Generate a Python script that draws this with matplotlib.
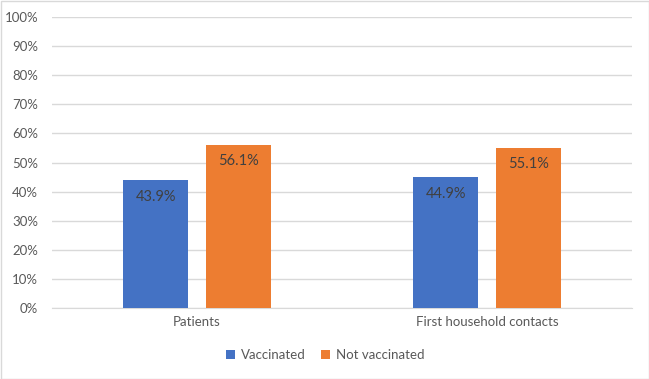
import matplotlib
matplotlib.use("Agg")
import matplotlib.pyplot as plt
import numpy as np

categories = ["Patients", "First household contacts"]
vaccinated = [43.9, 44.9]
not_vaccinated = [56.1, 55.1]
series_names = ["Vaccinated", "Not vaccinated"]
yticks = list(range(0, 101, 10))

plt.rcParams['font.family'] = ['Lato', 'DejaVu Sans']

fig = plt.figure(figsize=(6.49, 3.79), dpi=100)
ax = fig.add_axes([52 / 649, 1 - 308 / 379, 580 / 649, (308 - 17) / 379])

x = np.arange(len(categories))
w = 0.225
off = 0.142
c_blue = "#4472C4"
c_orange = "#ED7D31"
b1 = ax.bar(x - off, vaccinated, w, color=c_blue, label=series_names[0], zorder=3)
b2 = ax.bar(x + off, not_vaccinated, w, color=c_orange, label=series_names[1], zorder=3)

for bars, vals in ((b1, vaccinated), (b2, not_vaccinated)):
    for r, v in zip(bars, vals):
        ax.text(r.get_x() + r.get_width() / 2, v - 3.3, f"{v:.1f}%", ha="center", va="top",
                fontsize=10.5, color="#404040", zorder=4)

ax.set_xlim(-0.5, 1.5)
ax.set_ylim(0, 100)
ax.set_yticks(yticks)
ax.set_yticklabels([f"{t}%" for t in yticks])
ax.set_xticks(x)
ax.set_xticklabels(categories)
ax.grid(axis="y", color="#D9D9D9", linewidth=1, zorder=0)
for s in ["top", "right", "left"]:
    ax.spines[s].set_visible(False)
ax.spines["bottom"].set_color("#D9D9D9")
ax.tick_params(axis="both", length=0, labelsize=9.5, colors="#595959", pad=6)
ax.tick_params(axis="y", pad=10)

leg = fig.legend(handles=[b1, b2], labels=series_names, loc="center", bbox_to_anchor=(325 / 649, 1 - 355 / 379),
                 ncol=2, frameon=False, fontsize=9.5, handlelength=0.7, handleheight=0.7,
                 handletextpad=0.4, columnspacing=1.2, labelcolor="#595959")

border = plt.Rectangle((0.5 / 649, 0.5 / 379), 1 - 1 / 649, 1 - 1 / 379, transform=fig.transFigure,
                       fill=False, edgecolor="#D9D9D9", linewidth=1)
fig.patches.append(border)

fig.savefig("out.png", dpi=100)
